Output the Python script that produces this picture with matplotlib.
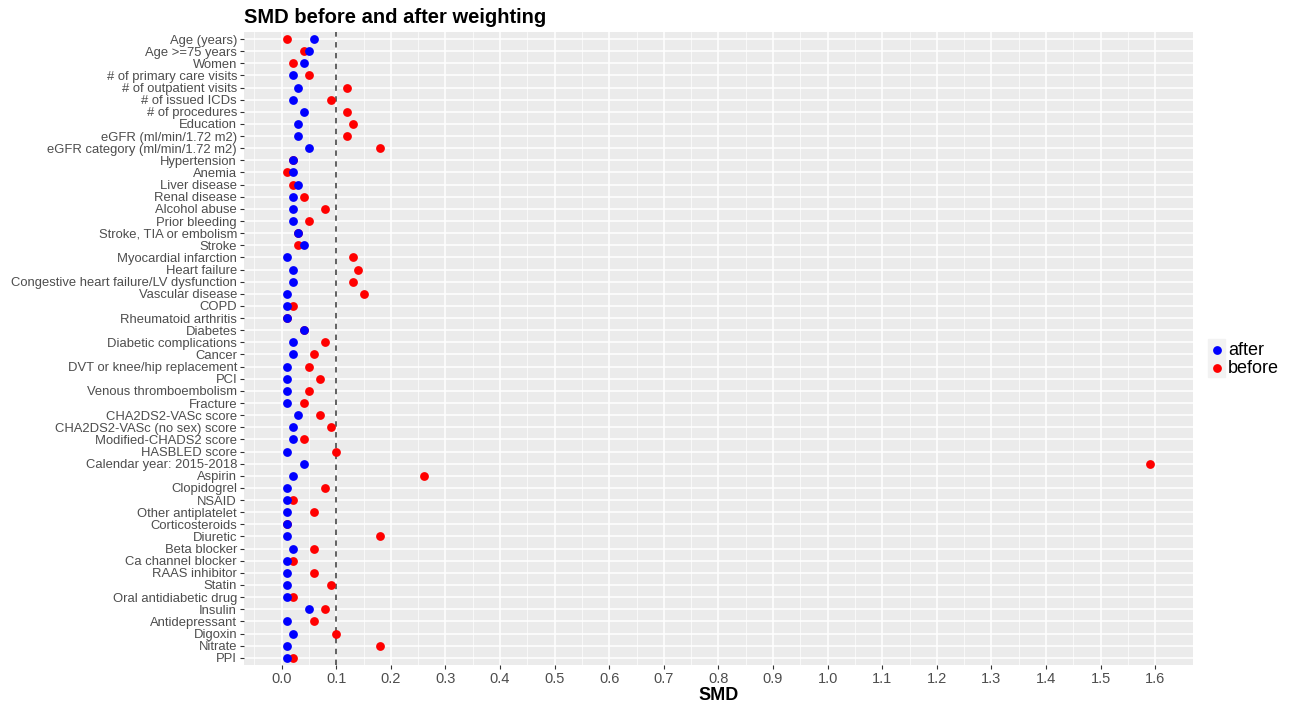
import numpy as np
import matplotlib
matplotlib.use("Agg")
import matplotlib.pyplot as plt
from matplotlib.patches import Rectangle

plt.rcParams['font.family'] = ['Liberation Sans', 'DejaVu Sans']

# covariates, top to bottom
labels = [
    "Age (years)", "Age >=75 years", "Women", "# of primary care visits",
    "# of outpatient visits", "# of issued ICDs", "# of procedures", "Education",
    "eGFR (ml/min/1.72 m2)", "eGFR category (ml/min/1.72 m2)", "Hypertension",
    "Anemia", "Liver disease", "Renal disease", "Alcohol abuse", "Prior bleeding",
    "Stroke, TIA or embolism", "Stroke", "Myocardial infarction", "Heart failure",
    "Congestive heart failure/LV dysfunction", "Vascular disease", "COPD",
    "Rheumatoid arthritis", "Diabetes", "Diabetic complications", "Cancer",
    "DVT or knee/hip replacement", "PCI", "Venous thromboembolism", "Fracture",
    "CHA2DS2-VASc score", "CHA2DS2-VASc (no sex) score", "Modified-CHADS2 score",
    "HASBLED score", "Calendar year: 2015-2018", "Aspirin", "Clopidogrel", "NSAID",
    "Other antiplatelet", "Corticosteroids", "Diuretic", "Beta blocker",
    "Ca channel blocker", "RAAS inhibitor", "Statin", "Oral antidiabetic drug",
    "Insulin", "Antidepressant", "Digoxin", "Nitrate", "PPI",
]

smd_after = [
    0.06, 0.05, 0.04, 0.02, 0.03, 0.02, 0.04, 0.03, 0.03, 0.05, 0.02,
    0.02, 0.03, 0.02, 0.02, 0.02, 0.03, 0.04, 0.01, 0.02, 0.02, 0.01, 0.01,
    0.01, 0.04, 0.02, 0.02, 0.01, 0.01, 0.01, 0.01, 0.03, 0.02, 0.02, 0.01,
    0.04, 0.02, 0.01, 0.01, 0.01, 0.01, 0.01, 0.02, 0.01, 0.01, 0.01, 0.01,
    0.05, 0.01, 0.02, 0.01, 0.01,
]

smd_before = [
    0.01, 0.04, 0.02, 0.05, 0.12, 0.09, 0.12, 0.13, 0.12, 0.18, 0.02,
    0.01, 0.02, 0.04, 0.08, 0.05, 0.03, 0.03, 0.13, 0.14, 0.13, 0.15, 0.02,
    0.01, 0.04, 0.08, 0.06, 0.05, 0.07, 0.05, 0.04, 0.07, 0.09, 0.04, 0.10,
    1.59, 0.26, 0.08, 0.02, 0.06, 0.01, 0.18, 0.06, 0.02, 0.06, 0.09, 0.02,
    0.08, 0.06, 0.10, 0.18, 0.02,
]

x_ticks = np.round(np.arange(0, 1.61, 0.1), 1)

fig = plt.figure(figsize=(12.91, 7.06), dpi=100)
ax = fig.add_axes([0.189, 0.058, 0.735, 0.897])

ypos = np.arange(len(labels))

ax.set_facecolor('#EBEBEB')
for s in ax.spines.values():
    s.set_visible(False)

# grid lines, ggplot style
for x in x_ticks:
    ax.axvline(x, color='white', lw=1.1, zorder=0)
for x in x_ticks[:-1] + 0.05:
    ax.axvline(x, color='white', lw=0.5, zorder=0)
ax.axvline(-0.05, color='white', lw=0.5, zorder=0)
for y in ypos:
    ax.axhline(y, color='white', lw=1.1, zorder=0)

ax.axvline(0.1, color='#555555', lw=1.3, ls=(0, (3, 3)), zorder=1)

ax.scatter(smd_before, ypos, s=40, color='red', zorder=3, label='before', linewidths=0)
ax.scatter(smd_after, ypos, s=40, color='blue', zorder=4, label='after', linewidths=0)

lo, hi = min(smd_after + smd_before), max(smd_after + smd_before)
pad = (hi - lo) * 0.05
ax.set_xlim(lo - pad, hi + pad)
ax.set_ylim(len(labels) - 0.4, -0.6)

ax.set_yticks(ypos)
ax.set_yticklabels(labels)
ax.set_xticks(x_ticks)
ax.set_xticklabels(['%.1f' % v for v in x_ticks])
ax.tick_params(axis='both', colors='#333333', labelcolor='#4D4D4D', length=3, width=0.8)
ax.tick_params(axis='y', labelsize=9.4, pad=2)
ax.tick_params(axis='x', labelsize=10.5, pad=2)

ax.set_xlabel('SMD', fontsize=13, fontweight='bold', labelpad=1)
ax.set_title('SMD before and after weighting', fontsize=14.5, fontweight='bold', loc='left', pad=6)

# legend (after first, like the reference)
h, l = ax.get_legend_handles_labels()
leg = ax.legend(h[::-1], l[::-1], loc='center left', bbox_to_anchor=(1.003, 0.483),
                frameon=False, fontsize=13, handletextpad=0.1, labelspacing=0.05,
                handlelength=1.0, borderaxespad=0.3)
fig.patches.append(Rectangle((1208 / 1291, 1 - 377 / 706), 17 / 1291, 38 / 706,
                             transform=fig.transFigure, color='#F2F2F2', zorder=-1))

fig.savefig('out.png', dpi=100)
